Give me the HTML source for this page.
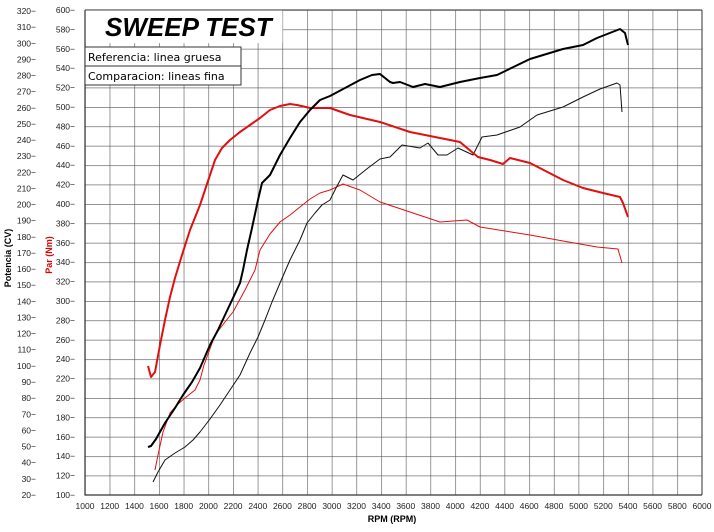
<!DOCTYPE html>
<html><head><meta charset="utf-8"><style>
body{margin:0;background:#fff}
svg{display:block;font-family:"Liberation Sans",sans-serif}
</style></head><body>
<svg width="714" height="532" viewBox="0 0 714 532" xmlns="http://www.w3.org/2000/svg">
<defs>
<pattern id="g" x="85" y="10" width="24.68" height="19.4" patternUnits="userSpaceOnUse">
<path d="M0 0V19.4M0 0H24.68" stroke="#555" stroke-width="1.2" fill="none"/>
</pattern>
</defs>
<rect x="85" y="10" width="617" height="485" fill="url(#g)"/>
<path d="M702 10V495M85 10H702" stroke="#555" stroke-width="1.2"/>
<rect x="85.6" y="10.6" width="197" height="32.5" fill="#fff"/>
<path d="M85 10V495H702" stroke="#333" stroke-width="1.2" fill="none"/>
<text x="105" y="36" font-size="26" font-weight="bold" font-style="italic">SWEEP TEST</text>
<rect x="85" y="47" width="156" height="38" fill="#fff" stroke="#333" stroke-width="1"/>
<line x1="85" y1="66" x2="241" y2="66" stroke="#333"/>
<text x="88" y="61" font-size="11" font-family="DejaVu Sans, sans-serif">Referencia: linea gruesa</text>
<text x="88" y="80" font-size="11" font-family="DejaVu Sans, sans-serif">Comparacion: lineas fina</text>

<g font-size="8.5" text-anchor="end" fill="#222">
<text x="75" y="13">600−</text><text x="75" y="32.4">580−</text><text x="75" y="51.8">560−</text><text x="75" y="71.2">540−</text><text x="75" y="90.6">520−</text><text x="75" y="110">500−</text><text x="75" y="129.4">480−</text><text x="75" y="148.8">460−</text><text x="75" y="168.2">440−</text><text x="75" y="187.6">420−</text><text x="75" y="207">400−</text><text x="75" y="226.4">380−</text><text x="75" y="245.8">360−</text><text x="75" y="265.2">340−</text><text x="75" y="284.6">320−</text><text x="75" y="304">300−</text><text x="75" y="323.4">280−</text><text x="75" y="342.8">260−</text><text x="75" y="362.2">240−</text><text x="75" y="381.6">220−</text><text x="75" y="401">200−</text><text x="75" y="420.4">180−</text><text x="75" y="439.8">160−</text><text x="75" y="459.2">140−</text><text x="75" y="478.6">120−</text><text x="75" y="498">100−</text>
</g>
<g font-size="8.5" text-anchor="end" fill="#222">
<text x="36" y="14">320−</text><text x="36" y="30.1">310−</text><text x="36" y="46.3">300−</text><text x="36" y="62.4">290−</text><text x="36" y="78.5">280−</text><text x="36" y="94.7">270−</text><text x="36" y="110.8">260−</text><text x="36" y="126.9">250−</text><text x="36" y="143">240−</text><text x="36" y="159.2">230−</text><text x="36" y="175.3">220−</text><text x="36" y="191.4">210−</text><text x="36" y="207.6">200−</text><text x="36" y="223.7">190−</text><text x="36" y="239.8">180−</text><text x="36" y="256">170−</text><text x="36" y="272.1">160−</text><text x="36" y="288.2">150−</text><text x="36" y="304.3">140−</text><text x="36" y="320.5">130−</text><text x="36" y="336.6">120−</text><text x="36" y="352.7">110−</text><text x="36" y="368.9">100−</text><text x="36" y="385">90−</text><text x="36" y="401.1">80−</text><text x="36" y="417.3">70−</text><text x="36" y="433.4">60−</text><text x="36" y="449.5">50−</text><text x="36" y="465.6">40−</text><text x="36" y="481.8">30−</text><text x="36" y="497.9">20−</text>
</g>
<text transform="translate(11,258) rotate(-90)" font-size="9" font-weight="bold" text-anchor="middle">Potencia (CV)</text>
<text transform="translate(52,255) rotate(-90)" font-size="9" font-weight="bold" text-anchor="middle" fill="#d00">Par (Nm)</text>

<g font-size="8.5" text-anchor="middle" fill="#222">
<text x="85" y="509">1000</text><text x="109.7" y="509">1200</text><text x="134.4" y="509">1400</text><text x="159" y="509">1600</text><text x="183.7" y="509">1800</text><text x="208.4" y="509">2000</text><text x="233.1" y="509">2200</text><text x="257.8" y="509">2400</text><text x="282.4" y="509">2600</text><text x="307.1" y="509">2800</text><text x="331.8" y="509">3000</text><text x="356.5" y="509">3200</text><text x="381.2" y="509">3400</text><text x="405.8" y="509">3600</text><text x="430.5" y="509">3800</text><text x="455.2" y="509">4000</text><text x="479.9" y="509">4200</text><text x="504.6" y="509">4400</text><text x="529.2" y="509">4600</text><text x="553.9" y="509">4800</text><text x="578.6" y="509">5000</text><text x="603.3" y="509">5200</text><text x="628" y="509">5400</text><text x="652.6" y="509">5600</text><text x="677.3" y="509">5800</text><text x="702" y="509">6000</text>
</g>
<text x="392" y="522" font-size="9" font-weight="bold" text-anchor="middle">RPM (RPM)</text>

<g fill="none" stroke-linejoin="round">
<polyline stroke="#e01010" stroke-width="1" points="155,470 158,455 163,432 170,413 178,404 185,398 195,390 200,380 204,365 207,357 215,335 225,322 233,312 245,290 255,270 260,250 270,234 280,222 290,215 300,207 310,199 320,193 330,190 343,184 360,190 380,202 413,213 440,222 467,220 480,227 530,235 563,241 597,247 618,249 622,263"/>
<polyline stroke="#111" stroke-width="1" points="153,482 158,472 165,460 175,453 185,447 193,440 200,432 210,419 220,405 230,390 240,375 250,353 258,337 265,320 272,302 280,283 290,260 300,240 307,223 315,213 322,205 330,200 336,188 343,175 353,180 368,168 380,159 390,157 402,145 420,148 428,143 438,155 447,155 458,148 473,155 482,137 497,135 520,127 537,115 563,107 583,97 600,89 617,83 620,85 622,112"/>
<polyline stroke="#e01010" stroke-width="2" points="148,366 151,377 155,372 160,345 165,320 170,297 175,278 182,255 190,230 200,205 210,175 215,160 222,148 230,140 240,132 250,125 260,118 270,110 280,106 290,104 297,105 310,108 330,108 350,115 380,122 410,132 440,138 460,142 473,153 478,157 490,160 503,164 510,158 530,163 563,180 583,188 603,193 620,197 623,203 628,217"/>
<polyline stroke="#000" stroke-width="2" points="148,447 151,446 156,439 165,423 175,408 183,395 192,382 200,368 210,345 218,330 225,315 233,298 240,283 243,270 247,250 252,228 258,200 262,183 270,175 280,155 290,138 300,122 310,110 320,100 330,96 345,88 360,80 372,75 380,74 390,82 393,83 400,82 413,87 425,84 440,87 460,82 480,78 497,75 530,59 563,49 583,45 597,38 620,29 625,33 628,45"/>
</g>
</svg>
</body></html>
